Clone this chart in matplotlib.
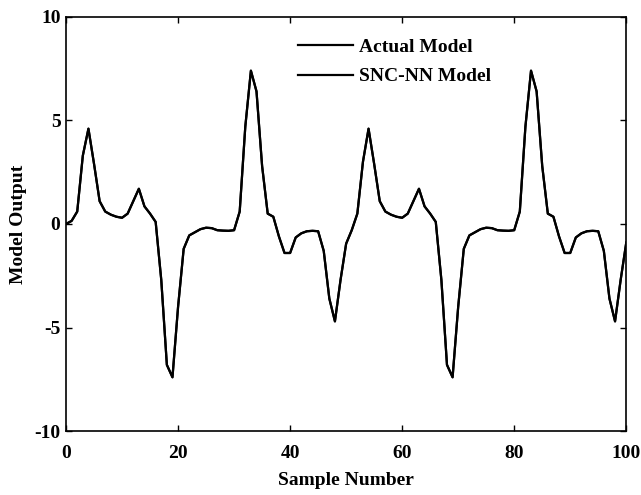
import matplotlib.pyplot as plt

# sample index and model output
sample_number = list(range(0, 101))
actual_model = [
    0.0, 0.15, 0.6, 3.3, 4.6, 2.9, 1.1, 0.6, 0.45, 0.35,
    0.3, 0.5, 1.1, 1.7, 0.85, 0.5, 0.1, -2.7, -6.8, -7.4,
    -4.0, -1.2, -0.55, -0.4, -0.25, -0.18, -0.2, -0.3, -0.32, -0.33,
    -0.3, 0.6, 4.7, 7.4, 6.4, 2.8, 0.5, 0.35, -0.6, -1.4,
    -1.4, -0.65, -0.45, -0.35, -0.33, -0.35, -1.3, -3.6, -4.7, -2.7,
    -0.95, -0.3, 0.5, 3.0, 4.6, 2.9, 1.1, 0.6, 0.45, 0.35,
    0.3, 0.5, 1.1, 1.7, 0.85, 0.5, 0.1, -2.7, -6.8, -7.4,
    -4.0, -1.2, -0.55, -0.4, -0.25, -0.18, -0.2, -0.3, -0.32, -0.33,
    -0.3, 0.6, 4.7, 7.4, 6.4, 2.8, 0.5, 0.35, -0.6, -1.4,
    -1.4, -0.65, -0.45, -0.35, -0.33, -0.35, -1.3, -3.6, -4.7, -2.7,
    -0.9,
]
# the network output lies on top of the actual model in the figure
snc_nn_model = list(actual_model)

x_ticks = [0, 20, 40, 60, 80, 100]
y_ticks = [-10, -5, 0, 5, 10]

plt.rcParams['font.family'] = 'Liberation Serif'
plt.rcParams['font.weight'] = 'bold'
plt.rcParams['axes.unicode_minus'] = False  # plain hyphen like the original

fig = plt.figure(figsize=(6.41, 4.95), dpi=100)
ax = fig.add_axes([0.103, 0.129, 0.874, 0.837])

ax.plot(sample_number, actual_model, color='black', linewidth=1.6, label='Actual Model')
ax.plot(sample_number, snc_nn_model, color='black', linewidth=1.6, label='SNC-NN Model')

ax.set_xlim(0, 100)
ax.set_ylim(-10, 10)
ax.set_xticks(x_ticks)
ax.set_yticks(y_ticks)
ax.tick_params(direction='in', top=True, right=True, length=4, width=1, labelsize=14)
ax.tick_params(axis='x', pad=10)
ax.tick_params(axis='y', pad=4)
for s in ax.spines.values():
    s.set_linewidth(1.2)

ax.set_xlabel('Sample Number', fontsize=14, fontweight='bold', labelpad=7)
ax.set_ylabel('Model Output', fontsize=14, fontweight='bold', labelpad=5)

ax.legend(loc='upper left', bbox_to_anchor=(0.382, 0.99), frameon=False,
          fontsize=14, handlelength=2.85, labelspacing=0.6, handletextpad=0.3)

plt.savefig('out.png', dpi=100)
